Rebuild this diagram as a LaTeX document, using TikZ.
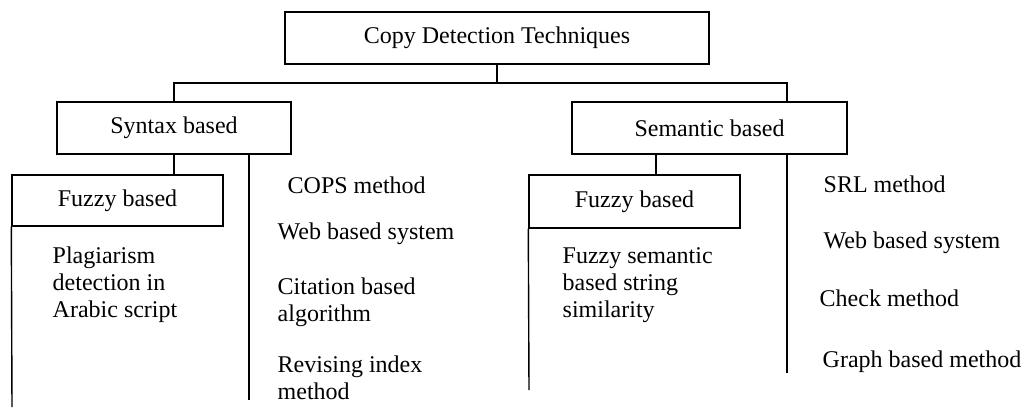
\documentclass[tikz,border=0pt]{standalone}
\usepackage{fontspec}
\setmainfont{Liberation Serif}
\begin{document}
\begin{tikzpicture}[x=1pt,y=-1pt,line width=1.4pt,
  box/.style={draw,line width=1.4pt,inner sep=0pt,font=\fontsize{24}{27}\selectfont},
  lbl/.style={anchor=west,align=left,inner sep=0pt,font=\fontsize{24}{27}\selectfont}]
\useasboundingbox (0,0) rectangle (1025,407);
% boxes
\node[box,minimum width=424pt,minimum height=52pt] (top) at (497,38) {Copy Detection Techniques};
\node[box,minimum width=234pt,minimum height=52pt] (syn) at (174,128) {Syntax based};
\node[box,minimum width=275pt,minimum height=52pt] (sem) at (709.5,128) {Semantic based};
\node[box,minimum width=211pt,minimum height=51pt] (fz1) at (117.5,200.5) {Fuzzy based};
\node[box,minimum width=211pt,minimum height=53pt] (fz2) at (634.5,201.5) {Fuzzy based};
% labels
\node[lbl] (cops) at (287,185) {COPS method};
\node[lbl] (web1) at (277,234) {Web based system};
\node[lbl] (cit) at (277,302) {Citation based\\algorithm};
\node[lbl] (rev) at (277,378) {Revising index\\method};
\node[lbl] (plag) at (52,285) {Plagiarism\\detection in\\Arabic script};
\node[lbl] (srl) at (823,184) {SRL method};
\node[lbl] (web2) at (823,243) {Web based system};
\node[lbl] (chk) at (819,298) {Check method};
\node[lbl] (graph) at (822,362) {Graph based method};
\node[lbl] (fss) at (562,285) {Fuzzy semantic\\based string\\similarity};
% junction coordinates
\coordinate (bar) at (497,83);
\coordinate (semj) at (787,102);
\coordinate (synE) at (249,400);
\coordinate (fz1E) at (12,407);
\coordinate (semA) at (656,154);
\coordinate (semE) at (787,373);
\coordinate (fz2E) at (529,390);
% connectors
\draw (top.south) -- (bar);
\draw (syn.north) |- (bar) -| (semj);
\draw (syn.south) -- (syn.south |- fz1.north);
\draw (syn.south -| synE) -- (synE);
\draw (fz1.south west) -- (fz1E);
\draw (semA) -- (semA |- fz2.north);
\draw (sem.south -| semE) -- (semE);
\draw (fz2.south west) -- (fz2E);
\end{tikzpicture}
\end{document}
